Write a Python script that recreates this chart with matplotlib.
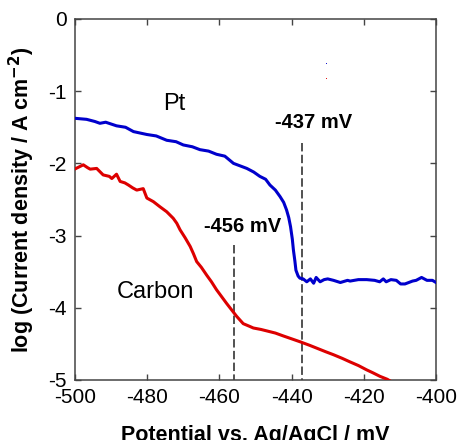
import numpy as np
import matplotlib.pyplot as plt

plt.rcParams['font.family'] = ['Liberation Sans', 'DejaVu Sans']

# Pt electrode
pt_potential = [-500, -496.8, -494.5, -493.1, -491.5, -488.5, -486.0, -483.8, -480.1, -477.5,
                -474.6, -472.0, -470.0, -467.5, -465.4, -463.0, -460.8, -458.5, -456.1, -452.4,
                -450.5, -448.8, -447.2, -446.0, -444.5, -443.2, -442.2, -441.4, -440.8, -440.3,
                -439.8, -439.5, -439.1, -438.8, -438.2, -437.7, -436.8, -435.8, -434.8, -433.9,
                -433.2, -432.1, -431.0, -430.0, -428.4, -426.5, -424.5, -423.8, -421.5, -419.2,
                -417.0, -415.6, -414.6, -413.8, -412.5, -411.0, -409.8, -408.6, -406.5, -405.5,
                -404.0, -402.5, -401.0, -400.0]
pt_logj = [-1.376, -1.39, -1.42, -1.445, -1.43, -1.48, -1.50, -1.56, -1.60, -1.62,
           -1.68, -1.70, -1.745, -1.77, -1.81, -1.83, -1.874, -1.90, -2.0, -2.07,
           -2.12, -2.18, -2.22, -2.30, -2.37, -2.46, -2.54, -2.645, -2.75, -2.876,
           -3.05, -3.20, -3.35, -3.48, -3.56, -3.59, -3.60, -3.64, -3.60, -3.66,
           -3.58, -3.64, -3.61, -3.60, -3.62, -3.65, -3.62, -3.63, -3.61, -3.61,
           -3.62, -3.64, -3.60, -3.64, -3.61, -3.62, -3.67, -3.67, -3.63, -3.62,
           -3.58, -3.62, -3.62, -3.65]

# Carbon electrode
c_potential = [-500, -497.7, -496.5, -495.8, -494.0, -493.0, -492.2, -490.5, -489.8, -488.5,
               -487.5, -486.2, -485.2, -484.0, -482.9, -481.1, -480.1, -478.3, -476.5, -474.6,
               -472.8, -471.8, -470.9, -469.5, -468.1, -467.2, -466.3, -465.0, -463.5, -462.2,
               -460.8, -458.0, -455.2, -453.4, -451.5, -450.6, -448.5, -446.9, -444.5, -442.3,
               -440.0, -437.7, -435.0, -433.0, -430.5, -428.4, -426.0, -423.8, -421.5, -419.2,
               -417.5, -415.5, -413.5, -412.5]
c_logj = [-2.077, -2.02, -2.06, -2.08, -2.07, -2.12, -2.16, -2.18, -2.21, -2.15,
          -2.25, -2.27, -2.30, -2.34, -2.37, -2.35, -2.48, -2.53, -2.60, -2.67,
          -2.76, -2.83, -2.92, -3.03, -3.15, -3.25, -3.36, -3.44, -3.55, -3.64,
          -3.75, -3.94, -4.12, -4.22, -4.26, -4.28, -4.30, -4.32, -4.35, -4.39,
          -4.43, -4.47, -4.52, -4.56, -4.61, -4.65, -4.70, -4.75, -4.80, -4.86,
          -4.90, -4.95, -4.99, -5.02]

onset_pt = -437
onset_c = -456

fig = plt.figure(figsize=(4.63, 4.40), dpi=100)
ax = fig.add_axes([0.162, 0.1364, 0.7797, 0.8205])

ax.plot(pt_potential, pt_logj, color='#0000cc', lw=2.2, solid_joinstyle='round', zorder=3)
ax.plot(c_potential, c_logj, color='#dd0000', lw=2.2, solid_joinstyle='round', zorder=3)

# onset markers
ax.plot([onset_pt, onset_pt], [-1.72, -5], color='#222222', lw=1.1, ls=(0, (5.5, 2.2)), zorder=2)
ax.plot([onset_c, onset_c], [-3.13, -5], color='#222222', lw=1.1, ls=(0, (5.5, 2.2)), zorder=2)

ax.text(-434, -1.43, f'{onset_pt} mV', fontsize=14.5, fontweight='bold', ha='center', va='center')
ax.text(-453.7, -2.88, f'{onset_c} mV', fontsize=14.5, fontweight='bold', ha='center', va='center')
ax.text(-472.6, -1.18, 'Pt', fontsize=17, ha='center', va='center')
ax.text(-477.6, -3.78, 'Carbon', fontsize=17, ha='center', va='center')

# leftover legend markers
ax.plot([-430.5], [-0.61], marker='s', ms=0.6, mew=0, color='#0000cc', ls='none')
ax.plot([-430.5], [-0.82], marker='s', ms=0.6, mew=0, color='#dd0000', ls='none')

ax.set_xlim(-500, -400)
ax.set_ylim(-5, 0)
ax.set_xticks(np.arange(-500, -399, 20))
ax.set_yticks(np.arange(-5, 0.1, 1))
ax.set_yticklabels(['-5', '-4', '-3', '-2', '-1', '0'])
ax.set_xticklabels(['-500', '-480', '-460', '-440', '-420', '-400'])
ax.tick_params(direction='in', top=True, right=True, length=4.5, width=1,
               color='#444444', labelsize=15, pad=6)
for s in ax.spines.values():
    s.set_color('#444444')
    s.set_linewidth(1.1)

ax.set_xlabel('Potential vs. Ag/AgCl / mV', fontsize=15.5, fontweight='bold', labelpad=13)
ax.set_ylabel('log (Current density / A cm$^{\\mathbf{-2}}$)', fontsize=15.5, fontweight='bold', labelpad=8)

fig.savefig('out.png', dpi=100)
